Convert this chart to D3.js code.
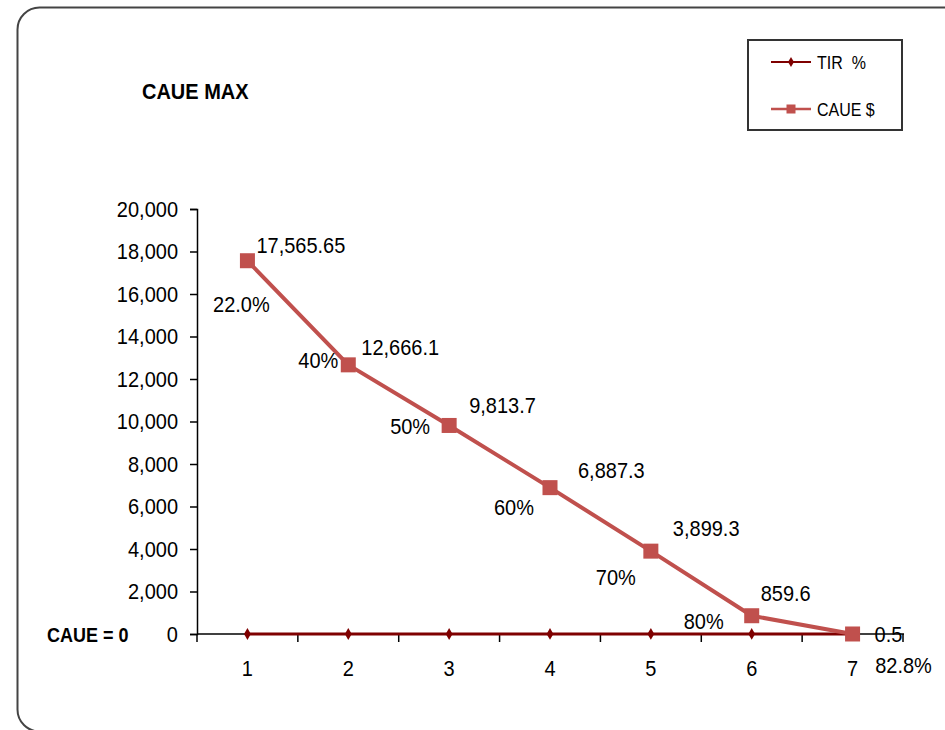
<!DOCTYPE html>
<html>
<head>
<meta charset="utf-8">
<script src="https://cdn.jsdelivr.net/npm/d3@7"></script>
<style>
  html, body { margin: 0; padding: 0; background: #fff; }
  svg { display: block; }
  text { font-family: "Liberation Sans", Arial, sans-serif; fill: #000;
         transform-box: fill-box; transform-origin: center; transform: scaleY(1.12); }
</style>
</head>
<body>
<svg id="chart" width="945" height="730"></svg>
<script>
// ---- data ----
const categories = [1, 2, 3, 4, 5, 6, 7];
const caueValues = [17565.65, 12666.1, 9813.7, 6887.3, 3899.3, 859.6, 0.5];
const tirValues = [0.22, 0.40, 0.50, 0.60, 0.70, 0.80, 0.828];
const tirLabels = ["22.0%", "40%", "50%", "60%", "70%", "80%", "82.8%"];
const yTicks = [0, 2000, 4000, 6000, 8000, 10000, 12000, 14000, 16000, 18000, 20000];
const seriesNames = ["TIR  %", "CAUE $"];

// ---- layout (label offsets in pixels, relative to each point) ----
const tirLabelOffsets = [[-6, -330], [-30, -274], [-39, -208], [-36, -127], [-35, -57], [-48, -13], [51, 31]];
const caueLabelOffsets = [[9, -16], [13, -18], [20, -20], [28, -17], [22, -23], [9, -23], [22, 0]];

const svg = d3.select("#chart");
const plot = { left: 197, right: 903, top: 209, bottom: 634 };
const caueColor = "#C0504D";
const tirColor = "#7F0000";

// outer frame
svg.append("rect")
  .attr("x", 17.5).attr("y", 7.5)
  .attr("width", 960).attr("height", 724)
  .attr("rx", 22).attr("ry", 22)
  .attr("fill", "#fff").attr("stroke", "#444").attr("stroke-width", 2);

// title
svg.append("text").attr("x", 142).attr("y", 98)
  .style("font-size", "20px").style("font-weight", "bold")
  .text("CAUE MAX");

const x = d3.scaleBand().domain(categories).range([plot.left, plot.right]);
const y = d3.scaleLinear().domain([0, 20000]).range([plot.bottom, plot.top]);
const cx = d => x(d) + x.bandwidth() / 2;

// y axis
const yAxis = svg.append("g").attr("transform", `translate(${plot.left},0)`)
  .call(d3.axisLeft(y).tickValues(yTicks).tickFormat(d3.format(",")).tickSize(7).tickPadding(12));
yAxis.select(".domain").attr("stroke", "#000").attr("stroke-width", 1.5);
yAxis.selectAll(".tick line").attr("stroke", "#000").attr("stroke-width", 1.5);
yAxis.selectAll(".tick text").style("font-size", "20px").attr("fill", "#000")
  .style("font-family", "'Liberation Sans', Arial, sans-serif");

// x axis (ticks between categories)
const xg = svg.append("g").attr("transform", `translate(0,${plot.bottom})`);
xg.append("line").attr("x1", plot.left).attr("x2", plot.right + 1)
  .attr("stroke", "#000").attr("stroke-width", 1.5);
const boundaries = categories.map(c => x(c)).concat([x(categories[categories.length - 1]) + x.bandwidth()]);
xg.selectAll("line.tk").data(boundaries).enter().append("line")
  .attr("class", "tk")
  .attr("x1", d => d).attr("x2", d => d)
  .attr("y1", 0).attr("y2", 8)
  .attr("stroke", "#000").attr("stroke-width", 1.5);
xg.selectAll("text").data(categories).enter().append("text")
  .attr("x", d => cx(d)).attr("y", 41)
  .attr("text-anchor", "middle")
  .style("font-size", "20px")
  .text(d => d);

// "CAUE = 0" label
svg.append("text").attr("x", 47).attr("y", y(0) + 7)
  .style("font-size", "18px").style("font-weight", "bold")
  .text("CAUE = 0");

// TIR series (plotted on same axis -> near zero)
const tirLine = d3.line().x((d, i) => cx(categories[i])).y(d => y(d));
svg.append("path").datum(tirValues)
  .attr("d", tirLine).attr("fill", "none")
  .attr("stroke", tirColor).attr("stroke-width", 3);
svg.selectAll("path.tirm").data(tirValues).enter().append("path")
  .attr("class", "tirm")
  .attr("d", d3.symbol().type(d3.symbolDiamond).size(40))
  .attr("transform", (d, i) => `translate(${cx(categories[i])},${y(d)})`)
  .attr("fill", tirColor);

// CAUE series
const caueLine = d3.line().x((d, i) => cx(categories[i])).y(d => y(d));
svg.append("path").datum(caueValues)
  .attr("d", caueLine).attr("fill", "none")
  .attr("stroke", caueColor).attr("stroke-width", 4).attr("stroke-linejoin", "round");
const sq = 15;
svg.selectAll("rect.cm").data(caueValues).enter().append("rect")
  .attr("class", "cm")
  .attr("x", (d, i) => cx(categories[i]) - sq / 2)
  .attr("y", d => y(d) - sq / 2)
  .attr("width", sq).attr("height", sq)
  .attr("fill", caueColor);

// CAUE labels
svg.selectAll("text.cl").data(caueValues).enter().append("text")
  .attr("class", "cl")
  .attr("x", (d, i) => cx(categories[i]) + caueLabelOffsets[i][0])
  .attr("y", (d, i) => y(d) + caueLabelOffsets[i][1] + 7)
  .style("font-size", "20px")
  .text(d => d3.format(",")(d));

// TIR labels
svg.selectAll("text.tl").data(tirValues).enter().append("text")
  .attr("class", "tl")
  .attr("x", (d, i) => cx(categories[i]) + tirLabelOffsets[i][0])
  .attr("y", (d, i) => y(d) + tirLabelOffsets[i][1] + 7)
  .attr("text-anchor", "middle")
  .style("font-size", "20px")
  .text((d, i) => tirLabels[i]);

// legend
const lg = svg.append("g");
lg.append("rect").attr("x", 748).attr("y", 40).attr("width", 154).attr("height", 90)
  .attr("fill", "#fff").attr("stroke", "#333").attr("stroke-width", 2);
const legendItems = [
  { name: seriesNames[0], color: tirColor, y: 62, marker: "diamond" },
  { name: seriesNames[1], color: caueColor, y: 109, marker: "square" }
];
legendItems.forEach(it => {
  lg.append("line").attr("x1", 771).attr("x2", 811).attr("y1", it.y).attr("y2", it.y)
    .attr("stroke", it.color).attr("stroke-width", it.marker === "diamond" ? 2 : 2.5);
  if (it.marker === "diamond") {
    lg.append("path").attr("d", d3.symbol().type(d3.symbolDiamond).size(30))
      .attr("transform", `translate(791,${it.y})`).attr("fill", it.color);
  } else {
    lg.append("rect").attr("x", 791 - 4.5).attr("y", it.y - 4.5).attr("width", 9).attr("height", 9)
      .attr("fill", it.color);
  }
  lg.append("text").attr("x", 817).attr("y", it.y + 6)
    .style("font-size", "16px").style("white-space", "pre").attr("xml:space", "preserve")
    .text(it.name);
});
</script>
</body>
</html>
